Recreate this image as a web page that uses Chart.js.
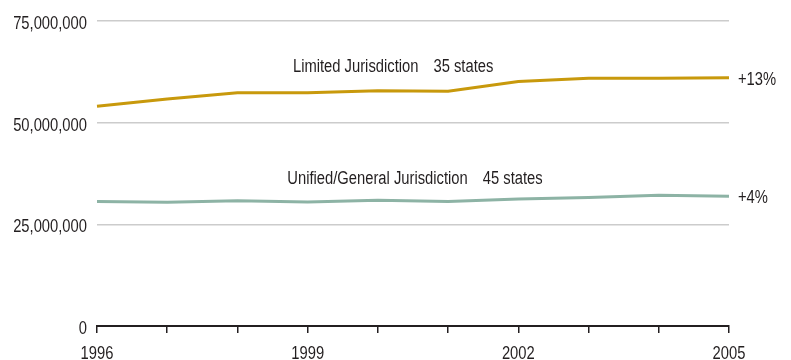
<!DOCTYPE html>
<html>
<head>
<meta charset="utf-8">
<script src="https://cdn.jsdelivr.net/npm/chart.js@4/dist/chart.umd.min.js"></script>
<style>
  html, body { margin: 0; padding: 0; background: #ffffff; }
  #wrap { width: 791px; height: 360px; position: relative; }
</style>
</head>
<body>
<div id="wrap"><canvas id="chart" width="791" height="360"></canvas></div>
<script>
// Incoming caseloads in state trial courts, 1996–2005
const years = ['1996', '1997', '1998', '1999', '2000', '2001', '2002', '2003', '2004', '2005'];
const labeledYears = ['1996', '1999', '2002', '2005'];
const limitedJurisdiction = [54000000, 55800000, 57300000, 57300000, 57800000, 57700000, 60100000, 60900000, 60900000, 61000000];
const unifiedGeneral = [30600000, 30400000, 30800000, 30500000, 30900000, 30600000, 31200000, 31600000, 32100000, 31900000];
const yTicks = [0, 25000000, 50000000, 75000000];
const seriesNames = ['Limited Jurisdiction', 'Unified/General Jurisdiction'];
const seriesStates = ['35 states', '45 states'];

// Narrow type: Liberation Sans squeezed horizontally
const FONT = "18px 'Liberation Sans', Arial, sans-serif";
const SQUEEZE = 0.82;
const TEXT = '#231f20';
const GOLD = '#C8990C';
const TEAL = '#8DB3A5';

function pctChange(arr) {
  const p = Math.round((arr[arr.length - 1] / arr[0] - 1) * 100);
  return (p >= 0 ? '+' : '') + p + '%';
}

function narrowText(ctx, text, x, y, align, baseline) {
  ctx.save();
  ctx.font = FONT;
  ctx.fillStyle = TEXT;
  ctx.textAlign = align;
  ctx.textBaseline = baseline;
  ctx.translate(x, y);
  ctx.scale(SQUEEZE, 1);
  ctx.fillText(text, 0, 0);
  const w = ctx.measureText(text).width * SQUEEZE;
  ctx.restore();
  return w;
}

// Tick labels, series titles and change labels
const annotations = {
  id: 'annotations',
  afterDraw(chart) {
    const ctx = chart.ctx;
    const x = chart.scales.x;
    const y = chart.scales.y;

    y.ticks.forEach(t => {
      narrowText(ctx, Number(t.value).toLocaleString('en-US'), chart.chartArea.left - 10, y.getPixelForValue(t.value) + 8, 'right', 'alphabetic');
    });
    x.ticks.forEach((t, i) => {
      const l = x.getLabelForValue(t.value);
      if (labeledYears.includes(l)) narrowText(ctx, l, x.getPixelForTick(i), chart.chartArea.bottom + 33, 'center', 'alphabetic');
    });

    const titles = [
      { name: seriesNames[0], states: seriesStates[0], xi: 2.79, val: 62300000 },
      { name: seriesNames[1], states: seriesStates[1], xi: 2.71, val: 35000000 }
    ];
    titles.forEach(t => {
      const px = x.getPixelForValue(0) + (x.getPixelForValue(1) - x.getPixelForValue(0)) * t.xi;
      const py = y.getPixelForValue(t.val);
      const w = narrowText(ctx, t.name, px, py, 'left', 'alphabetic');
      narrowText(ctx, t.states, px + w + 15, py, 'left', 'alphabetic');
    });

    chart.data.datasets.forEach((ds, i) => {
      const meta = chart.getDatasetMeta(i);
      const last = meta.data[meta.data.length - 1];
      narrowText(ctx, pctChange(ds.data), last.x + 9, last.y + 7, 'left', 'alphabetic');
    });
  }
};

new Chart(document.getElementById('chart'), {
  type: 'line',
  data: {
    labels: years,
    datasets: [
      { label: seriesNames[0], data: limitedJurisdiction, borderColor: GOLD, borderWidth: 3, pointRadius: 0, tension: 0, fill: false },
      { label: seriesNames[1], data: unifiedGeneral, borderColor: TEAL, borderWidth: 3, pointRadius: 0, tension: 0, fill: false }
    ]
  },
  options: {
    responsive: false,
    animation: false,
    devicePixelRatio: 1,
    layout: { padding: { top: 20, right: 62, bottom: 0, left: 0 } },
    plugins: { legend: { display: false }, tooltip: { enabled: false } },
    scales: {
      x: {
        type: 'category',
        offset: false,
        grid: { display: true, drawOnChartArea: false, drawTicks: true, tickLength: 7, color: '#231f20', lineWidth: 1.5 },
        border: { display: true, color: '#231f20', width: 2 },
        ticks: {
          autoSkip: false, maxRotation: 0, padding: 2, color: 'rgba(0,0,0,0)',
          font: { size: 18 }
        },
        afterFit(scale) { scale.height = 34; }
      },
      y: {
        min: 0, max: 75000000,
        afterBuildTicks(scale) { scale.ticks = yTicks.map(v => ({ value: v })); },
        grid: { color: '#cccccc', lineWidth: 1.5, drawTicks: false },
        border: { display: false },
        ticks: { padding: 10, color: 'rgba(0,0,0,0)', font: { size: 18 } },
        afterFit(scale) { scale.width = 97; }
      }
    }
  },
  plugins: [annotations]
});
</script>
</body>
</html>
